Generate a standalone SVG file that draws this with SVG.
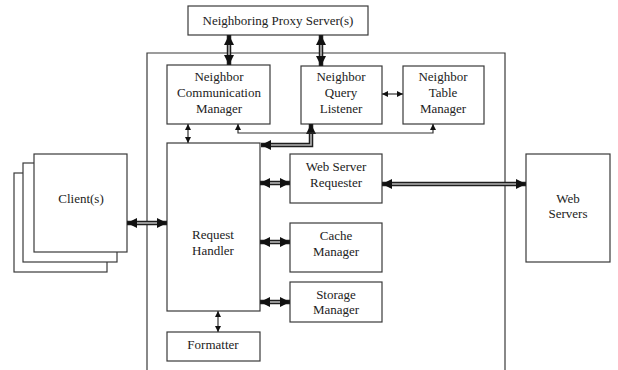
<svg xmlns="http://www.w3.org/2000/svg" width="618" height="370" viewBox="0 0 618 370">
  <style>
    .box { fill: #ffffff; stroke: #3a3a3a; stroke-width: 1.2; }
    .frame { fill: none; stroke: #3a3a3a; stroke-width: 1.2; }
    .lbl { font-family: "Liberation Serif", "DejaVu Serif", "Times New Roman", serif; font-size: 13px; fill: #222222; text-anchor: middle; }
    .thick { fill: none; stroke: #1e1e1e; stroke-width: 4.5; }
    .core { fill: none; stroke: #b4b4b4; stroke-width: 1.6; }
    .thin { fill: none; stroke: #333333; stroke-width: 1.2; }
  </style>
  <defs>
    <marker id="bigHead" markerUnits="userSpaceOnUse" markerWidth="10" markerHeight="10" refX="10" refY="5" orient="auto-start-reverse">
      <path d="M0,0 L10,5 L0,10 z" fill="#111111"/>
    </marker>
    <marker id="smallHead" markerUnits="userSpaceOnUse" markerWidth="6" markerHeight="6" refX="6" refY="3" orient="auto-start-reverse">
      <path d="M0,0 L6,3 L0,6 z" fill="#111111"/>
    </marker>
  </defs>

  <!-- proxy host boundary, open at the bottom -->
  <path class="frame" d="M147,370 V53 H505 V370"/>

  <g id="neighboring-proxy">
    <rect class="box" x="188" y="6" width="180" height="29"/>
    <text class="lbl" font-family="Liberation Serif, serif" x="278" y="25">Neighboring Proxy Server(s)</text>
  </g>

  <g id="clients">
    <rect class="box" x="14" y="173" width="93" height="99"/>
    <rect class="box" x="23" y="163" width="94" height="99"/>
    <rect class="box" x="34" y="154" width="93" height="98"/>
    <text class="lbl" x="81" y="203">Client(s)</text>
  </g>

  <g id="neighbor-communication-manager">
    <rect class="box" x="167" y="65" width="103" height="59"/>
    <text class="lbl" x="219" y="81">Neighbor</text>
    <text class="lbl" x="219" y="97">Communication</text>
    <text class="lbl" x="219" y="113">Manager</text>
  </g>

  <g id="neighbor-query-listener">
    <rect class="box" x="301" y="66" width="81" height="58"/>
    <text class="lbl" x="341" y="81">Neighbor</text>
    <text class="lbl" x="341" y="97">Query</text>
    <text class="lbl" x="341" y="113">Listener</text>
  </g>

  <g id="neighbor-table-manager">
    <rect class="box" x="403" y="66" width="81" height="58"/>
    <text class="lbl" x="443" y="81">Neighbor</text>
    <text class="lbl" x="443" y="97">Table</text>
    <text class="lbl" x="443" y="113">Manager</text>
  </g>

  <g id="request-handler">
    <rect class="box" x="167" y="143" width="93" height="168"/>
    <text class="lbl" x="213" y="239">Request</text>
    <text class="lbl" x="213" y="255">Handler</text>
  </g>

  <g id="formatter">
    <rect class="box" x="167" y="332" width="93" height="29"/>
    <text class="lbl" x="213" y="349">Formatter</text>
  </g>

  <g id="web-server-requester">
    <rect class="box" x="290" y="154" width="92" height="49"/>
    <text class="lbl" x="336" y="171">Web Server</text>
    <text class="lbl" x="336" y="187">Requester</text>
  </g>

  <g id="cache-manager">
    <rect class="box" x="290" y="223" width="92" height="49"/>
    <text class="lbl" x="336" y="240">Cache</text>
    <text class="lbl" x="336" y="256">Manager</text>
  </g>

  <g id="storage-manager">
    <rect class="box" x="290" y="282" width="92" height="40"/>
    <text class="lbl" x="336" y="299">Storage</text>
    <text class="lbl" x="336" y="314">Manager</text>
  </g>

  <g id="web-servers">
    <rect class="box" x="526" y="154" width="84" height="108"/>
    <text class="lbl" x="568" y="203">Web</text>
    <text class="lbl" x="568" y="218">Servers</text>
  </g>

  <g id="connectors">
    <!-- heavy two-way links: dark outer stroke with a light core -->
    <path class="thick" d="M229,35 V65" marker-start="url(#bigHead)" marker-end="url(#bigHead)"/>
    <path class="core" d="M229,45 V55"/>
    <path class="thick" d="M321,35 V66" marker-start="url(#bigHead)" marker-end="url(#bigHead)"/>
    <path class="core" d="M321,45 V56"/>
    <path class="thick" d="M127,223 H167" marker-start="url(#bigHead)" marker-end="url(#bigHead)"/>
    <path class="core" d="M137,223 H157"/>
    <path class="thick" d="M260,183 H290" marker-start="url(#bigHead)" marker-end="url(#bigHead)"/>
    <path class="core" d="M270,183 H280"/>
    <path class="thick" d="M260,242 H290" marker-start="url(#bigHead)" marker-end="url(#bigHead)"/>
    <path class="core" d="M270,242 H280"/>
    <path class="thick" d="M260,302 H290" marker-start="url(#bigHead)" marker-end="url(#bigHead)"/>
    <path class="core" d="M270,302 H280"/>
    <path class="thick" d="M382,184 H526" marker-start="url(#bigHead)" marker-end="url(#bigHead)"/>
    <path class="core" d="M392,184 H516"/>
    <path class="thick" d="M311,124 V145 H261" marker-start="url(#bigHead)" marker-end="url(#bigHead)"/>
    <path class="core" d="M311,134 V145 H271"/>

    <!-- light two-way links -->
    <path class="thin" d="M188,124 V143" marker-start="url(#smallHead)" marker-end="url(#smallHead)"/>
    <path class="thin" d="M382,94 H403" marker-start="url(#smallHead)" marker-end="url(#smallHead)"/>
    <path class="thin" d="M238,124 V133 H433 V124" marker-start="url(#smallHead)" marker-end="url(#smallHead)"/>
    <path class="thin" d="M218,311 V332" marker-start="url(#smallHead)" marker-end="url(#smallHead)"/>
  </g>
</svg>
